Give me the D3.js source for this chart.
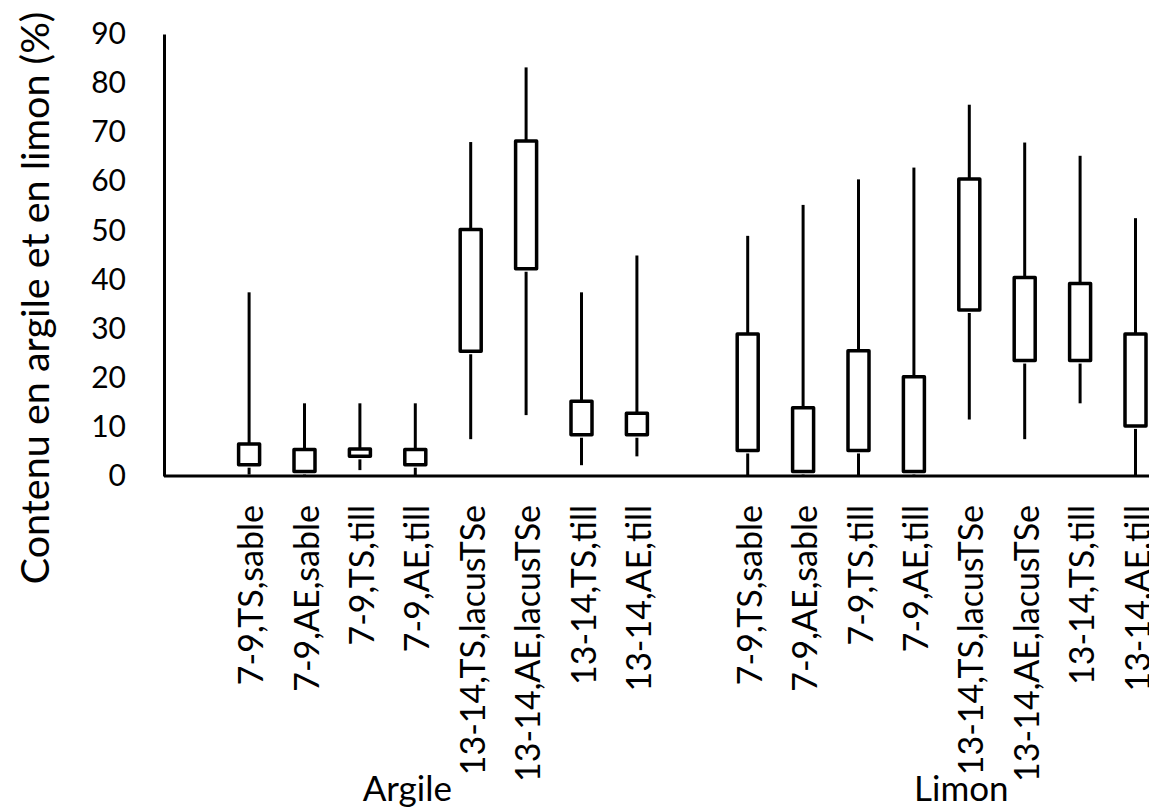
<!DOCTYPE html>
<html>
<head>
<meta charset="utf-8">
<script src="https://cdn.jsdelivr.net/npm/d3@7"></script>
<style>
  body { margin: 0; background: #fff; }
  svg { display: block; font-family: Lato, "Open Sans", sans-serif; }
</style>
</head>
<body>
<svg id="drawing_region"></svg>
<script>
// categories (one slot each); empty strings are unlabeled slots
const labels = ["", "7-9,TS,sable", "7-9,AE,sable", "7-9,TS,till", "7-9,AE,till",
    "13-14,TS,lacusTSe", "13-14,AE,lacusTSe", "13-14,TS,till", "13-14,AE,till",
    "", "7-9,TS,sable", "7-9,AE,sable", "7-9,TS,till", "7-9,AE,till",
    "13-14,TS,lacusTSe", "13-14,AE,lacusTSe", "13-14,TS,till", "13-14,AE,till", ""];

// min, box bottom, box top, max (null = no box)
const low  = [0, 0.3, 0, 1.2, 0.2, 7.5, 12.4, 2.2, 4.0, null, 0, 0, 0, 0, 11.5, 7.5, 14.8, 0, null];
const q1   = [0, 2.3, 0.9, 4.0, 2.3, 25.4, 42.2, 8.4, 8.4, null, 5.2, 0.9, 5.2, 0.9, 33.8, 23.5, 23.5, 10.2, null];
const q3   = [0, 6.5, 5.4, 5.5, 5.4, 50.2, 68.2, 15.2, 12.8, null, 28.9, 13.9, 25.5, 20.2, 60.5, 40.4, 39.2, 28.9, null];
const high = [0, 37.4, 14.8, 14.8, 14.8, 68.0, 83.2, 37.4, 44.9, null, 48.9, 55.2, 60.4, 62.8, 75.6, 67.9, 65.2, 52.5, null];

// group labels under the category labels
const groupNames = ["Argile", "Limon"];
const groupFirst = [0, 10];
const groupLast  = [8, 18];

const yTicks = [0, 10, 20, 30, 40, 50, 60, 70, 80, 90];

const data = labels.map((l, i) => ({
    idx: i, label: l, low: low[i], q1: q1[i], q3: q3[i], high: high[i]
}));

var config = {
    parent: '#drawing_region',
    width: 1149,
    height: 811,
    margin: {top: 34, left: 166, bottom: 335},
    step: 55.4,
    title: 'Contenu en argile et en limon (%)'
};

class BoxChart {
    constructor(config, data) {
        this.config = config;
        this.data = data;
        this.init();
    }

    init() {
        let self = this;
        self.svg = d3.select(self.config.parent)
            .attr('width', self.config.width)
            .attr('height', self.config.height);

        self.xscale = d3.scaleBand()
            .domain(self.data.map(d => d.idx))
            .range([self.config.margin.left, self.config.margin.left + self.config.step * self.data.length])
            .padding(0);

        self.yscale = d3.scaleLinear()
            .domain([0, 90])
            .range([476, self.config.margin.top]);
    }

    update() {
        this.render();
    }

    render() {
        let self = this;
        const x = d => self.xscale(d.idx) + self.xscale.bandwidth() / 2;
        const y = self.yscale;
        const boxW = 21;

        // y axis
        const yAxis = d3.axisLeft(y).tickValues(yTicks).tickSize(0).tickPadding(38);
        const yg = self.svg.append('g')
            .attr('transform', `translate(164,0)`)
            .call(yAxis);
        yg.select('.domain').attr('stroke', '#000').attr('stroke-width', 3);
        yg.selectAll('text')
            .style('font-family', 'Lato, sans-serif')
            .style('font-size', '30px')
            .attr('fill', '#000');

        // x axis (baseline + category labels)
        const xAxis = d3.axisBottom(self.xscale).tickSize(0).tickFormat(i => labels[i]);
        const xg = self.svg.append('g')
            .attr('transform', `translate(0,${y(0)})`)
            .call(xAxis);
        xg.select('.domain')
            .attr('d', `M164,0H${self.config.width + 100}`)
            .attr('stroke', '#000').attr('stroke-width', 3);
        xg.selectAll('text')
            .style('font-family', 'Lato, sans-serif')
            .style('font-size', '34px')
            .attr('fill', '#000')
            .attr('transform', 'rotate(-90)')
            .attr('text-anchor', 'end')
            .attr('x', -29)
            .attr('y', 14)
            .attr('dy', 0);

        const boxes = self.data.filter(d => d.q1 !== null);

        // upper whiskers
        self.svg.selectAll('.hi')
            .data(boxes)
            .enter()
            .append('line')
            .attr('x1', x).attr('x2', x)
            .attr('y1', d => y(d.high))
            .attr('y2', d => y(d.q3))
            .attr('stroke', '#000')
            .attr('stroke-width', 3);

        // lower whiskers (small gap under the box)
        self.svg.selectAll('.lo')
            .data(boxes.filter(d => y(d.low) - y(d.q1) > 4))
            .enter()
            .append('line')
            .attr('x1', x).attr('x2', x)
            .attr('y1', d => y(d.q1) + 3)
            .attr('y2', d => y(d.low))
            .attr('stroke', '#000')
            .attr('stroke-width', 3);

        self.svg.selectAll('.box')
            .data(boxes)
            .enter()
            .append('rect')
            .attr('x', d => x(d) - boxW / 2)
            .attr('width', boxW)
            .attr('y', d => y(d.q3))
            .attr('height', d => y(d.q1) - y(d.q3))
            .attr('fill', '#fff')
            .attr('stroke', '#000')
            .attr('stroke-width', 3.5)
            .attr('stroke-linejoin', 'round');

        // group labels
        self.svg.selectAll('.group')
            .data(groupNames)
            .enter()
            .append('text')
            .attr('x', (g, i) => (x({idx: groupFirst[i]}) + x({idx: groupLast[i]})) / 2 - 8)
            .attr('y', 801)
            .attr('text-anchor', 'middle')
            .style('font-size', '35px')
            .text(g => g);

        // y title
        self.svg.append('text')
            .attr('transform', `translate(49, 298) rotate(-90)`)
            .attr('text-anchor', 'middle')
            .style('font-size', '39.5px')
            .text(self.config.title);
    }
}

const box_chart = new BoxChart(config, data);
box_chart.update();
</script>
</body>
</html>
